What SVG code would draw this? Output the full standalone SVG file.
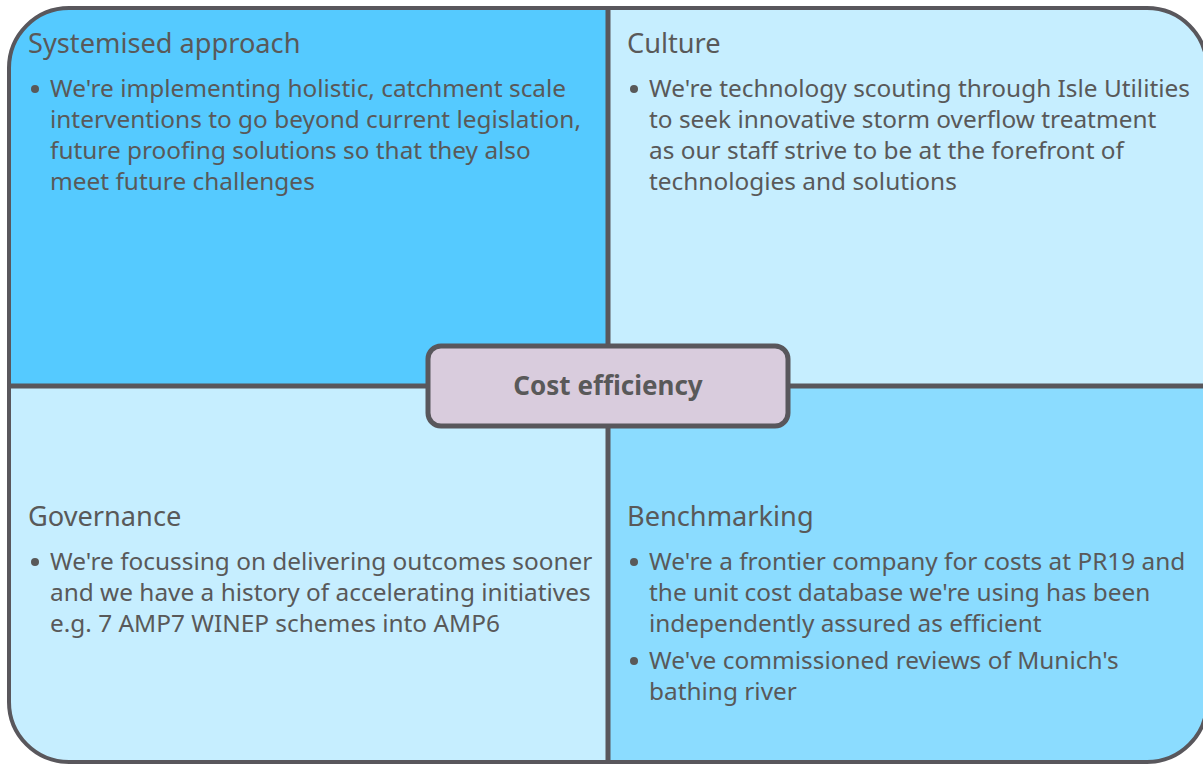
<svg xmlns="http://www.w3.org/2000/svg" width="1203" height="765" viewBox="0 0 1203 765">
<style>
.t{font-family:"Noto Sans","Liberation Sans",sans-serif;fill:#595959;}
.h{font-size:27.2px;}
.b{font-size:24.4px;}
.dot{fill:#595959;}
.ln{stroke:#59575c;stroke-width:5;fill:none;}
.c{font-family:"Noto Sans","Liberation Sans",sans-serif;font-weight:bold;font-size:26px;fill:#595959;}
</style>
<defs>
<clipPath id="frame"><rect x="9" y="8" width="1198" height="754" rx="60" ry="60"/></clipPath>
</defs>
<rect width="1203" height="765" fill="#ffffff"/>
<g clip-path="url(#frame)">
<rect x="0" y="0" width="608" height="386" fill="#55CAFF"/>
<rect x="608" y="0" width="600" height="386" fill="#C6EEFF"/>
<rect x="0" y="386" width="608" height="380" fill="#C6EEFF"/>
<rect x="608" y="386" width="600" height="380" fill="#8BDCFF"/>
</g>
<g id="connectors">
<line class="ln" x1="608" y1="8" x2="608" y2="762"/>
<line class="ln" x1="9" y1="386" x2="1207" y2="386"/>
</g>
<rect x="9" y="8" width="1198" height="754" rx="60" ry="60" fill="none" stroke="#59575c" stroke-width="4"/>
<g id="systemised">
<text class="t h" x="28" y="53">Systemised approach</text>
<circle class="dot" cx="35" cy="89" r="4"/>
<text class="t b" x="50" y="97">We're implementing holistic, catchment scale</text>
<text class="t b" x="50" y="128">interventions to go beyond current legislation,</text>
<text class="t b" x="50" y="159">future proofing solutions so that they also</text>
<text class="t b" x="50" y="190">meet future challenges</text>
</g>
<g id="culture">
<text class="t h" x="627" y="53">Culture</text>
<circle class="dot" cx="634" cy="89" r="4"/>
<text class="t b" x="649" y="97">We're technology scouting through Isle Utilities</text>
<text class="t b" x="649" y="128">to seek innovative storm overflow treatment</text>
<text class="t b" x="649" y="159">as our staff strive to be at the forefront of</text>
<text class="t b" x="649" y="190">technologies and solutions</text>
</g>
<g id="governance">
<text class="t h" x="28" y="526">Governance</text>
<circle class="dot" cx="35" cy="562" r="4"/>
<text class="t b" x="50" y="570">We're focussing on delivering outcomes sooner</text>
<text class="t b" x="50" y="601">and we have a history of accelerating initiatives</text>
<text class="t b" x="50" y="632">e.g. 7 AMP7 WINEP schemes into AMP6</text>
</g>
<g id="benchmarking">
<text class="t h" x="627" y="526">Benchmarking</text>
<circle class="dot" cx="634" cy="562" r="4"/>
<text class="t b" x="649" y="570">We're a frontier company for costs at PR19 and</text>
<text class="t b" x="649" y="601">the unit cost database we're using has been</text>
<text class="t b" x="649" y="632">independently assured as efficient</text>
<circle class="dot" cx="634" cy="661" r="4"/>
<text class="t b" x="649" y="669">We've commissioned reviews of Munich's</text>
<text class="t b" x="649" y="700">bathing river</text>
</g>
<g id="cost-efficiency">
<rect x="428" y="346" width="360" height="80" rx="13" ry="13" fill="#D9CCDD" stroke="#59575c" stroke-width="5"/>
<text class="c" x="608" y="395" text-anchor="middle">Cost efficiency</text>
</g>
</svg>
